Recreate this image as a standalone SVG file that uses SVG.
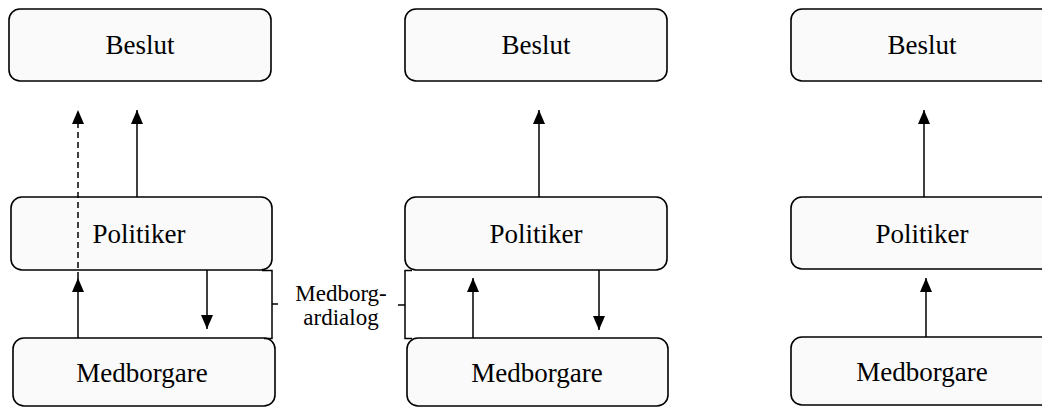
<svg xmlns="http://www.w3.org/2000/svg" width="1042" height="408" viewBox="0 0 1042 408">
<style>
.box{fill:#fafafa;stroke:#000;stroke-width:1.6}
.lbl{font-family:"Liberation Serif","Times New Roman",serif;font-size:27px;fill:#000;text-anchor:middle}
.note{font-family:"Liberation Serif","Times New Roman",serif;font-size:23px;fill:#000;text-anchor:middle}
.ln{fill:none;stroke:#000;stroke-width:1.5}
.dash{stroke-dasharray:6 4}
</style>
<defs>
<marker id="ah" viewBox="0 0 14 12" refX="14" refY="6" markerWidth="14" markerHeight="12" markerUnits="userSpaceOnUse" orient="auto">
<path d="M0 0 L14 6 L0 12 Z" fill="#000"/>
</marker>
</defs>
<rect width="1042" height="408" fill="#fff"/>
<g id="beslut1"><rect class="box" x="9" y="9" width="262" height="72" rx="11"/><text class="lbl" x="140" y="54">Beslut</text></g>
<g id="politiker1"><rect class="box" x="11" y="197" width="261" height="73" rx="11"/><text class="lbl" x="139" y="243">Politiker</text></g>
<g id="medborgare1"><rect class="box" x="13" y="338" width="262" height="68" rx="11"/><text class="lbl" x="142" y="381.5">Medborgare</text></g>
<g id="beslut2"><rect class="box" x="405" y="9" width="262" height="72" rx="11"/><text class="lbl" x="536" y="54">Beslut</text></g>
<g id="politiker2"><rect class="box" x="405" y="197" width="262" height="73" rx="11"/><text class="lbl" x="536" y="243">Politiker</text></g>
<g id="medborgare2"><rect class="box" x="407" y="338" width="261" height="68" rx="11"/><text class="lbl" x="537" y="381.5">Medborgare</text></g>
<g id="beslut3"><rect class="box" x="791" y="9" width="262" height="72" rx="11"/><text class="lbl" x="922" y="54">Beslut</text></g>
<g id="politiker3"><rect class="box" x="791" y="197" width="262" height="72" rx="11"/><text class="lbl" x="922" y="243">Politiker</text></g>
<g id="medborgare3"><rect class="box" x="791" y="337" width="262" height="68" rx="11"/><text class="lbl" x="922" y="381">Medborgare</text></g>
<g id="medborgardialog">
<path class="ln" d="M262 270.5 H272 V338.5 H264 M272 304 H278"/>
<path class="ln" d="M412 270.5 H405 V338.5 H412 M405 305 H398"/>
<text class="note" x="341" y="301">Medborg-</text>
<text class="note" x="341" y="325">ardialog</text>
</g>
<g id="connectors">
<path class="ln dash" d="M78 278 V110" marker-end="url(#ah)"/>
<path class="ln" d="M137 197 V110" marker-end="url(#ah)"/>
<path class="ln" d="M78 338 V278" marker-end="url(#ah)"/>
<path class="ln" d="M207 270 V329" marker-end="url(#ah)"/>
<path class="ln" d="M539 197 V110" marker-end="url(#ah)"/>
<path class="ln" d="M473 338 V278" marker-end="url(#ah)"/>
<path class="ln" d="M599 270 V330" marker-end="url(#ah)"/>
<path class="ln" d="M924 197 V110" marker-end="url(#ah)"/>
<path class="ln" d="M926 337 V278" marker-end="url(#ah)"/>
</g>
</svg>
